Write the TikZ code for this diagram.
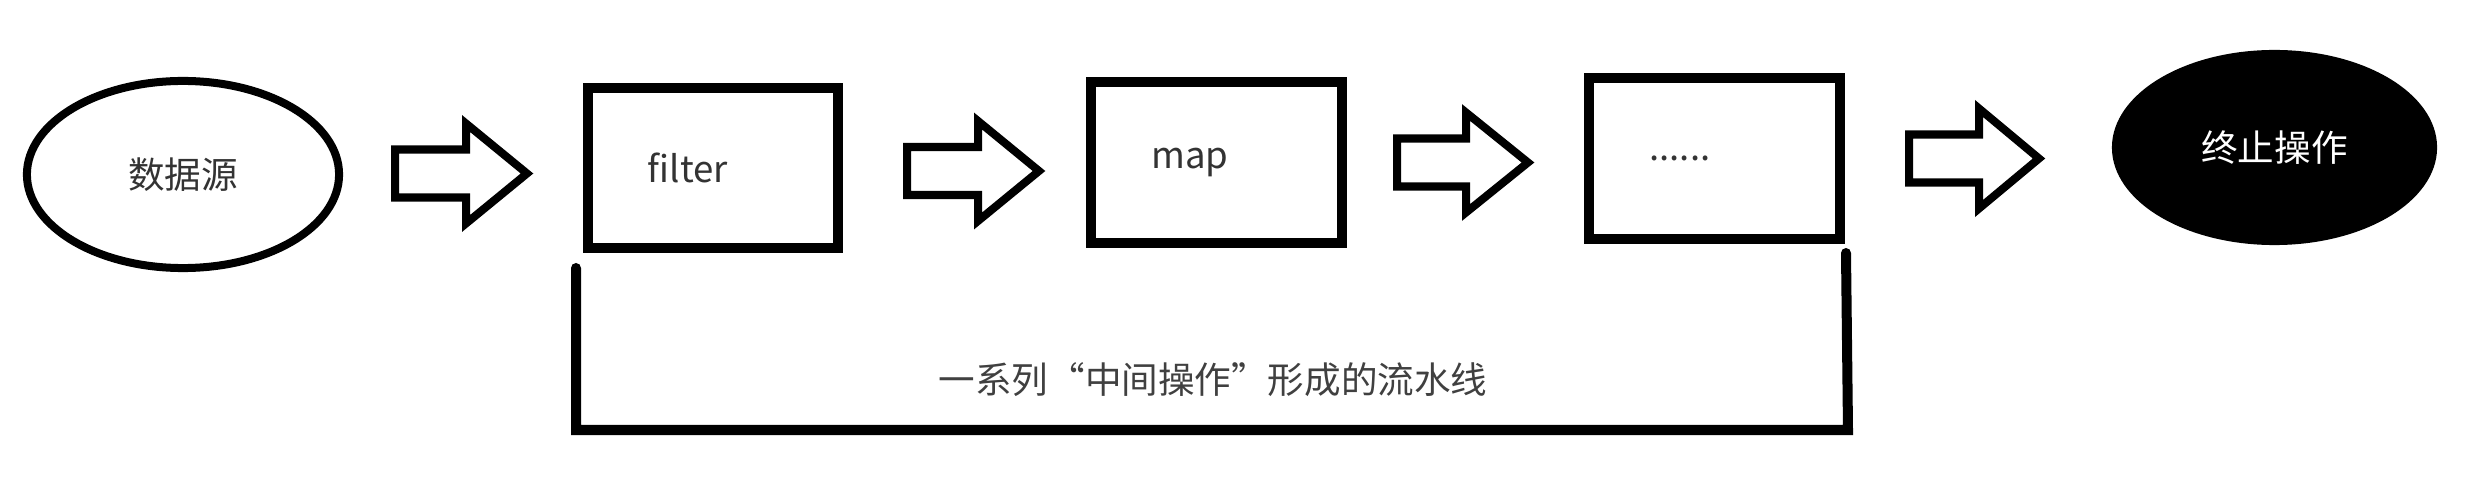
\documentclass[tikz,border=0pt]{standalone}
\usepackage{fontspec}
\setmainfont{Noto Sans CJK SC}
\usetikzlibrary{shapes.geometric}
\begin{document}
\begin{tikzpicture}[x=0.01cm,y=-0.01cm,
		font=\fontsize{10.4pt}{12pt}\selectfont,
		stage/.style={draw,line width=0.1cm,minimum width=2.5cm,minimum height=1.6cm,inner xsep=0.6cm,text width=1.3cm,align=left,text=black!80},
		endpt/.style={ellipse,inner sep=0pt},
		bigarrow/.style={line width=0.08cm,line join=miter}]
			\useasboundingbox (0,0) rectangle (2490,488);
			\node[endpt,draw,line width=0.08cm,minimum width=3.12cm,minimum height=1.87cm,text=black!80] (src) at (183,174.5) {数据源};
			\node[stage] (filter) at (713,168) {filter};
			\node[stage] (map) at (1216.5,162.5) {map};
			\node[stage] (more) at (1714.5,158.5) {......};
			\node[endpt,fill=black,minimum width=3.25cm,minimum height=1.95cm,text=white] (term) at (2274.5,147.5) {终止操作};
			\coordinate (A1) at (395,173.5);
			\coordinate (A2) at (907,171);
			\coordinate (A3) at (1397,162.5);
			\coordinate (A4) at (1909,158.5);
			\draw[bigarrow] (A1) ++(0,-24) -- ++(71,0) -- ++(0,-26) -- ++(61,50) -- ++(-61,50) -- ++(0,-26) -- ++(-71,0) -- cycle;
			\draw[bigarrow] (A2) ++(0,-24) -- ++(71,0) -- ++(0,-26) -- ++(61,50) -- ++(-61,50) -- ++(0,-26) -- ++(-71,0) -- cycle;
			\draw[bigarrow] (A3) ++(0,-24) -- ++(69,0) -- ++(0,-26) -- ++(62,50) -- ++(-62,50) -- ++(0,-26) -- ++(-69,0) -- cycle;
			\draw[bigarrow] (A4) ++(0,-24) -- ++(70,0) -- ++(0,-26) -- ++(60,50) -- ++(-60,50) -- ++(0,-26) -- ++(-70,0) -- cycle;
			% bracket under the middle stages
			\coordinate (BL) at (576,268);
			\coordinate (BB) at (576,430);
			\coordinate (BE) at (1848,430);
			\coordinate (BR) at (1846,253);
			\draw[line width=0.1cm,line cap=round] (BL) -- (BB) -- (BE) -- (BR);
			\node[text=black!75] (pipe) at (1213,380) {一系列“中间操作”形成的流水线};
\end{tikzpicture}
\end{document}
